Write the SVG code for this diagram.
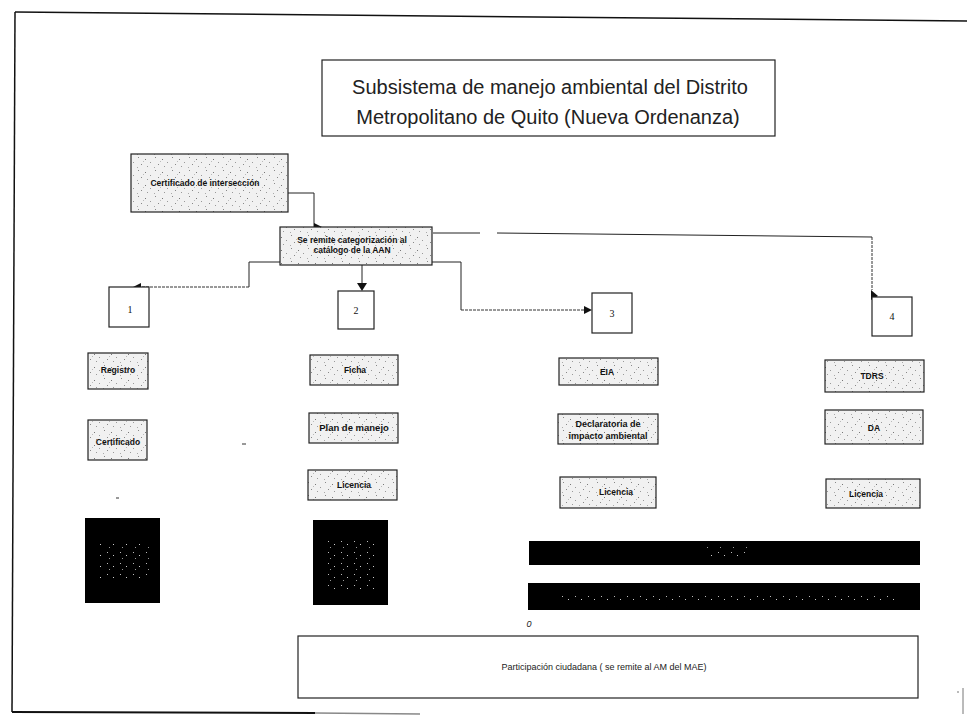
<svg xmlns="http://www.w3.org/2000/svg" width="967" height="726" viewBox="0 0 967 726">
<style>
.box{stroke:#222;stroke-width:1.2}
.plain{fill:#fff;stroke:#222;stroke-width:1.2}
.lbl{font-family:"Liberation Sans",Arial,sans-serif;font-size:8.5px;font-weight:bold;fill:#111;text-anchor:middle}
.num{font-family:"Liberation Serif","Times New Roman",serif;font-size:10px;fill:#111;text-anchor:middle}
.title{font-family:"Liberation Sans",Arial,sans-serif;font-size:20px;fill:#222;text-anchor:middle}
.small{font-family:"Liberation Sans",Arial,sans-serif;font-size:9px;fill:#222;text-anchor:middle}
.con{fill:none;stroke:#222;stroke-width:1}
.dot{fill:none;stroke:#333;stroke-width:1;stroke-dasharray:3 1}
.ah{fill:#111}
.blk{fill:#000}
</style>
<defs>
<pattern id="stip" width="17" height="13" patternUnits="userSpaceOnUse">
<rect width="17" height="13" fill="#f1f1f1"/>
<rect x="2" y="1" width="1" height="1" fill="#888"/>
<rect x="9" y="3" width="1" height="1" fill="#777"/>
<rect x="14" y="6" width="1" height="1" fill="#999"/>
<rect x="5" y="8" width="1" height="1" fill="#888"/>
<rect x="11" y="10" width="1" height="1" fill="#999"/>
<rect x="1" y="11" width="1" height="1" fill="#aaa"/>
<rect x="7" y="5" width="1" height="1" fill="#bbb"/>
</pattern>
<pattern id="wspk" width="13" height="11" patternUnits="userSpaceOnUse">
<rect width="13" height="11" fill="#000"/>
<rect x="3" y="2" width="1" height="1" fill="#bbb"/>
<rect x="9" y="5" width="1" height="1" fill="#ccc"/>
<rect x="5" y="8" width="1" height="1" fill="#999"/>
</pattern>
</defs>
<rect width="967" height="726" fill="#fff"/>

<g id="frame" fill="none" stroke="#111">
<path d="M15,12 L967,21" stroke-width="1.5"/>
<path d="M15,12 L12,712" stroke-width="1.5"/>
<path d="M12,712 L315,713" stroke-width="2"/>
<path d="M315,713 L420,714" stroke="#888" stroke-width="1.5"/>
<path d="M963,688 L963,714" stroke="#777" stroke-width="1"/>
<path d="M957,692 L959,692" stroke="#777" stroke-width="1"/>
</g>

<g id="title">
<rect x="322" y="60" width="453" height="76" class="plain"/>
<text x="550" y="94" class="title">Subsistema  de manejo ambiental del Distrito</text>
<text x="548" y="124" class="title">Metropolitano de Quito (Nueva Ordenanza)</text>
</g>

<g id="connectors">
<path class="con" d="M288,193 H314 V227"/>
<polygon class="ah" points="314,223 322,227 314,231"/>
<path class="con" d="M280,262 H249 V287"/>
<path class="dot" d="M249,287 H140"/>
<polygon class="ah" points="141,283 133,287 141,291"/>
<path class="con" d="M362,265 V284"/>
<polygon class="ah" points="357,283 362,291 367,283"/>
<path class="con" d="M432,262 H461 V310"/>
<path class="dot" d="M461,310 H585"/>
<polygon class="ah" points="584,306 592,310 584,314"/>
<path class="con" d="M433,233 H480"/>
<path class="con" d="M497,233 L872,237"/>
<path class="dot" d="M872,237 V290"/>
<polygon class="ah" points="871,290 878,296 871,300"/>
</g>

<g id="n-cert">
<rect x="131" y="154" width="157" height="58" fill="url(#stip)" class="box"/>
<text x="205" y="186" class="lbl">Certificado de intersección</text>
</g>
<g id="n-remite">
<rect x="280" y="227" width="152" height="38" fill="url(#stip)" class="box"/>
<text x="352" y="243" class="lbl">Se remite categorización al</text>
<text x="352" y="253" class="lbl">catálogo de la AAN</text>
</g>

<g id="n1"><rect x="109" y="287" width="40" height="40" class="plain"/><text x="130" y="313" class="num">1</text></g>
<g id="n2"><rect x="338" y="291" width="36" height="38" class="plain"/><text x="356" y="314" class="num">2</text></g>
<g id="n3"><rect x="592" y="293" width="40" height="40" class="plain"/><text x="612" y="317" class="num">3</text></g>
<g id="n4"><rect x="872" y="297" width="40" height="39" class="plain"/><text x="892" y="320" class="num">4</text></g>

<g id="n-registro"><rect x="88" y="353" width="60" height="36" fill="url(#stip)" class="box"/><text x="118" y="373" class="lbl">Registro</text></g>
<g id="n-certificado"><rect x="88" y="420" width="59" height="40" fill="url(#stip)" class="box"/><text x="118" y="445" class="lbl">Certificado</text></g>

<g id="n-ficha"><rect x="310" y="355" width="88" height="30" fill="url(#stip)" class="box"/><text x="355" y="373" class="lbl">Ficha</text></g>
<g id="n-plan"><rect x="309" y="413" width="89" height="30" fill="url(#stip)" class="box"/><text x="354" y="431" class="lbl" style="font-size:9.5px">Plan de manejo</text></g>
<g id="n-lic2"><rect x="308" y="470" width="89" height="30" fill="url(#stip)" class="box"/><text x="354" y="488" class="lbl">Licencia</text></g>

<g id="n-eia"><rect x="559" y="358" width="99" height="27" fill="url(#stip)" class="box"/><text x="607" y="375" class="lbl">EIA</text></g>
<g id="n-decl"><rect x="558" y="414" width="100" height="30" fill="url(#stip)" class="box"/><text x="608" y="427" class="lbl" style="font-size:9px">Declaratoria de</text><text x="608" y="439" class="lbl" style="font-size:9px">impacto ambiental</text></g>
<g id="n-lic3"><rect x="560" y="477" width="96" height="31" fill="url(#stip)" class="box"/><text x="616" y="495" class="lbl">Licencia</text></g>

<g id="n-tdrs"><rect x="825" y="360" width="99" height="32" fill="url(#stip)" class="box"/><text x="872" y="379" class="lbl">TDRS</text></g>
<g id="n-da"><rect x="825" y="410" width="98" height="34" fill="url(#stip)" class="box"/><text x="874" y="431" class="lbl">DA</text></g>
<g id="n-lic4"><rect x="826" y="479" width="94" height="29" fill="url(#stip)" class="box"/><text x="866" y="497" class="lbl">Licencia</text></g>

<g id="blk1"><rect x="85" y="518" width="75" height="85" class="blk"/><rect x="97" y="542" width="52" height="36" fill="url(#wspk)"/></g>
<g id="blk2"><rect x="313" y="520" width="75" height="85" class="blk"/><rect x="325" y="537" width="52" height="52" fill="url(#wspk)"/></g>
<g id="bar1"><rect x="529" y="541" width="391" height="24" class="blk"/><rect x="707" y="547" width="40" height="10" fill="url(#wspk)"/></g>
<g id="bar2"><rect x="528" y="583" width="392" height="27" class="blk"/><rect x="560" y="594" width="340" height="6" fill="url(#wspk)"/></g>

<g id="marks" stroke="#333" stroke-width="1">
<path d="M242,444 H246"/>
<path d="M116,498 H119"/>
</g>
<text x="529" y="627" class="small" font-style="italic">0</text>

<g id="n-particip">
<rect x="298" y="636" width="620" height="62" class="plain"/>
<text x="604" y="670" class="small">Participación ciudadana ( se remite al AM del MAE)</text>
</g>
</svg>
